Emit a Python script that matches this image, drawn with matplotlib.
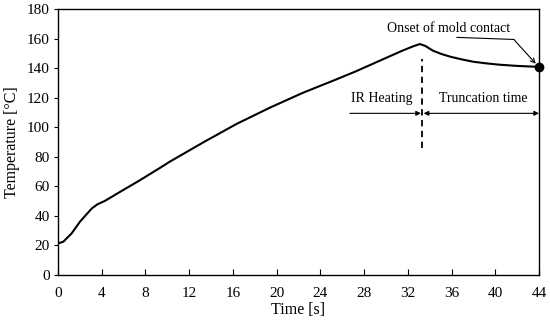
import matplotlib
matplotlib.use("Agg")
import matplotlib.pyplot as plt

plt.rcParams['font.family'] = ['Liberation Serif', 'DejaVu Serif']

time_s = [0, 0.48, 1.25, 2.0, 2.6, 3.1, 3.6, 4.3, 5.8, 7.35, 9.33, 10.25, 13.3,
          16.35, 19.4, 22.4, 25.5, 27.3, 29.0, 30.4, 31.5, 32.5, 33.1,
          33.6, 34.3, 35.1, 35.9, 37.0, 38.0, 39.2, 40.4, 42.0, 43.5, 44.0]
temp_c = [21.4, 22.5, 28.2, 36.0, 41.0, 45.1, 47.8, 50.2, 56.8, 63.5, 72.5, 76.8,
          89.8, 102.3, 113.3, 123.3, 132.5, 138.0, 143.6, 148.2,
          151.8, 154.8, 156.3, 155.0, 151.8, 149.5, 147.7, 145.8, 144.3, 143.2,
          142.3, 141.5, 141.0, 140.8]
x_ticks = [0, 4, 8, 12, 16, 20, 24, 28, 32, 36, 40, 44]
y_ticks = [0, 20, 40, 60, 80, 100, 120, 140, 160, 180]
t_switch = 33.3

fig = plt.figure(figsize=(5.5, 3.22), dpi=100)
ax = fig.add_axes([0.1055, 0.146, 0.8745, 0.826])

ax.plot(time_s, temp_c, color='black', lw=1.5)
ax.plot([time_s[-1]], [temp_c[-1]], 'o', color='black', ms=6, clip_on=False, zorder=5)

ax.set_xlim(0, 44)
ax.set_ylim(0, 180)
ax.set_xticks(x_ticks)
ax.set_yticks(y_ticks)
ax.tick_params(axis='x', direction='in', length=4, width=0.8, labelsize=11, pad=9)
ax.tick_params(axis='y', direction='out', length=3, width=0.8, labelsize=11, pad=3)
for s in ax.spines.values():
    s.set_linewidth(1.0)

ax.set_xlabel('Time [s]', fontsize=11.5, labelpad=1)
ax.set_ylabel('Temperature [°C]', fontsize=11.5, labelpad=5)

# dashed vertical line
ax.plot([t_switch, t_switch], [86, 146], color='black', lw=1.3, ls=(0, (3.5, 2.5)))

# arrows
ax.annotate('', xy=(t_switch - 0.1, 109.4), xytext=(26.7, 109.4),
            arrowprops=dict(arrowstyle='-|>', color='black', lw=0.8, mutation_scale=7,
                            shrinkA=0, shrinkB=0))
ax.annotate('', xy=(44, 109.4), xytext=(t_switch + 0.15, 109.4),
            arrowprops=dict(arrowstyle='<|-|>', color='black', lw=0.8, mutation_scale=7,
                            shrinkA=0, shrinkB=0))
ax.text(29.6, 119.5, 'IR Heating', ha='center', va='center', fontsize=10)
ax.text(38.9, 119.5, 'Truncation time', ha='center', va='center', fontsize=10)

ax.text(35.7, 166.5, 'Onset of mold contact', ha='center', va='center', fontsize=10)
ax.plot([36.5, 41.7], [160.8, 159.4], color='black', lw=0.8)
ax.annotate('', xy=(43.7, 143), xytext=(41.7, 159.4),
            arrowprops=dict(arrowstyle='->', color='black', lw=0.8, mutation_scale=8,
                            shrinkA=0, shrinkB=0))

fig.savefig('out.png', dpi=100)
